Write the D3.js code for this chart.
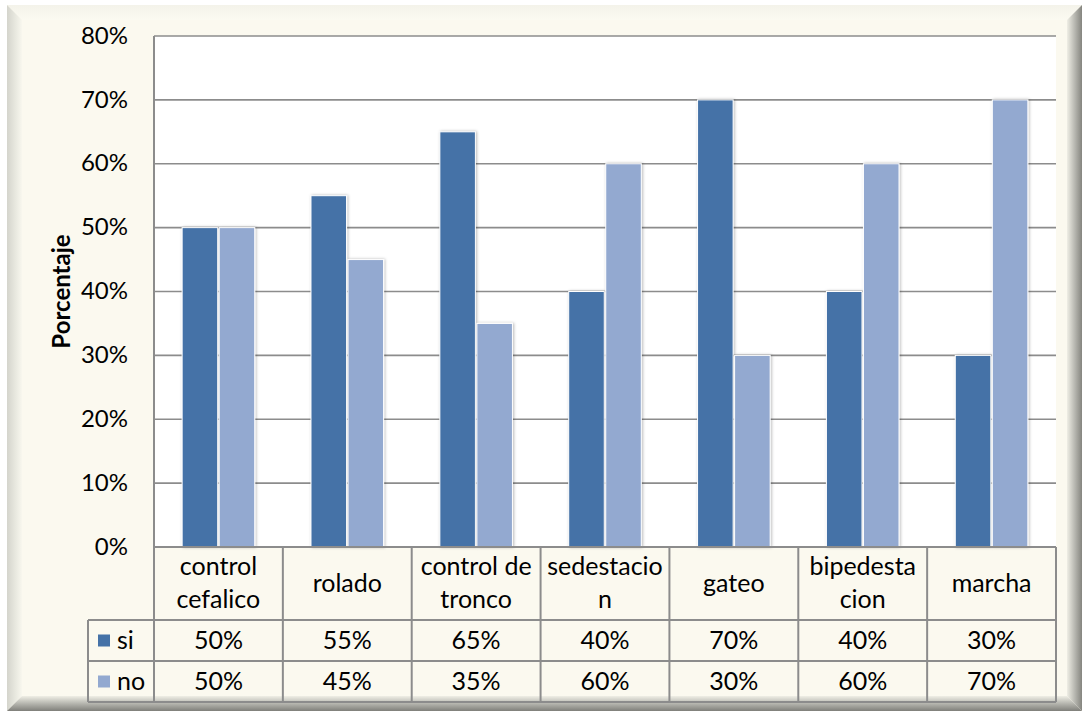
<!DOCTYPE html>
<html>
<head>
<meta charset="utf-8">
<script src="https://cdnjs.cloudflare.com/ajax/libs/d3/7.8.5/d3.min.js"></script>
<style>
  html, body { margin: 0; padding: 0; background: #ffffff; }
  svg { display: block; font-family: Lato, "Open Sans", sans-serif; }
</style>
</head>
<body>
<svg id="chart" width="1082" height="711"></svg>
<script>
// Hitos del desarrollo motor: porcentaje que lo alcanza (si) y que no (no)
const categories = ["control cefalico", "rolado", "control de tronco", "sedestacion", "gateo", "bipedestacion", "marcha"];
const categoryLines = [["control", "cefalico"], ["rolado"], ["control de", "tronco"], ["sedestacio", "n"], ["gateo"], ["bipedesta", "cion"], ["marcha"]];
const seriesNames = ["si", "no"];
const siValues = [0.50, 0.55, 0.65, 0.40, 0.70, 0.40, 0.30];
const noValues = [0.50, 0.45, 0.35, 0.60, 0.30, 0.60, 0.70];
const yTicks = [0, 0.1, 0.2, 0.3, 0.4, 0.5, 0.6, 0.7, 0.8];
const yTitle = "Porcentaje";

const seriesColors = { si: "#4572A7", no: "#93A9D0" };
const valuesBySeries = { si: siValues, no: noValues };

const W = 1082, H = 711;
const plot = { left: 154, right: 1056, top: 36, bottom: 547 };
const table = { left: 88, headerBottom: 620, row1Bottom: 661, row2Bottom: 702 };
const cream = "#FBF9EF";
const lineGray = "#8C8C8C";
const tickFont = 24;
const tableFont = 25;

const svg = d3.select("#chart");
const defs = svg.append("defs");

// Beveled frame gradients
function grad(id, x1, y1, x2, y2, stops) {
  const g = defs.append("linearGradient").attr("id", id)
    .attr("x1", x1).attr("y1", y1).attr("x2", x2).attr("y2", y2);
  stops.forEach(s => g.append("stop").attr("offset", s[0]).attr("stop-color", s[1]));
}
grad("bevL", 0, 0, 1, 0, [[0, "#d4d4cc"], [0.5, "#e6e6dd"], [1, "#f8f7ee"]]);
grad("bevT", 0, 0, 0, 1, [[0, "#f4f3ea"], [1, "#fbfaf1"]]);
grad("bevR", 0, 0, 1, 0, [[0, "#efeee5"], [0.5, "#b9b9b2"], [1, "#85857f"]]);
grad("bevB", 0, 0, 0, 1, [[0, "#efeee5"], [0.5, "#b6b6af"], [1, "#7f7f7a"]]);

const shadow = defs.append("filter").attr("id", "barShadow")
  .attr("x", "-30%").attr("y", "-10%").attr("width", "160%").attr("height", "120%");
shadow.append("feDropShadow").attr("dx", 1).attr("dy", 0).attr("stdDeviation", 1.6)
  .attr("flood-color", "#000").attr("flood-opacity", 0.28);

// Frame
const fx0 = 7, fy0 = 5, fx1 = W, fy1 = H, bw = 15;
svg.append("rect").attr("x", fx0).attr("y", fy0).attr("width", fx1 - fx0).attr("height", fy1 - fy0).attr("fill", cream);
svg.append("polygon").attr("fill", "url(#bevT)")
  .attr("points", [[fx0, fy0], [fx1, fy0], [fx1 - bw, fy0 + bw], [fx0 + bw, fy0 + bw]].join(" "));
svg.append("polygon").attr("fill", "url(#bevL)")
  .attr("points", [[fx0, fy0], [fx0 + bw, fy0 + bw], [fx0 + bw, fy1 - bw], [fx0, fy1]].join(" "));
svg.append("polygon").attr("fill", "url(#bevB)")
  .attr("points", [[fx0, fy1], [fx0 + bw, fy1 - bw], [fx1 - bw, fy1 - bw], [fx1, fy1]].join(" "));
svg.append("polygon").attr("fill", "url(#bevR)")
  .attr("points", [[fx1, fy0], [fx1, fy1], [fx1 - bw, fy1 - bw], [fx1 - bw, fy0 + bw]].join(" "));
svg.append("rect").attr("x", fx0 + bw).attr("y", fy0 + bw)
  .attr("width", fx1 - fx0 - 2 * bw).attr("height", fy1 - fy0 - 2 * bw).attr("fill", cream);

// Scales
const y = d3.scaleLinear().domain([0, 0.8]).range([plot.bottom, plot.top]);
const x0 = d3.scaleBand().domain(categories).range([plot.left, plot.right]).padding(0);
const step = x0.bandwidth();
const gapRatio = 1.55;
const barW = step / (2 + gapRatio);
const x1 = d3.scaleBand().domain(seriesNames)
  .range([(step - 2 * barW) / 2, (step + 2 * barW) / 2]).paddingInner(0.04).paddingOuter(0);

// Plot area
svg.append("rect").attr("x", plot.left).attr("y", plot.top)
  .attr("width", plot.right - plot.left).attr("height", plot.bottom - plot.top).attr("fill", "#ffffff");

// Gridlines
svg.append("g").selectAll("line").data(yTicks.filter(t => t > 0)).join("line")
  .attr("x1", plot.left).attr("x2", plot.right)
  .attr("y1", d => y(d)).attr("y2", d => y(d))
  .attr("stroke", lineGray).attr("stroke-width", 1.6);

// Y axis line
svg.append("line").attr("x1", plot.left).attr("x2", plot.left)
  .attr("y1", plot.top).attr("y2", plot.bottom).attr("stroke", lineGray).attr("stroke-width", 2);

// Y axis labels
const yAxis = d3.axisLeft(y).tickValues(yTicks).tickFormat(d3.format(".0%")).tickSize(0).tickPadding(0);
const yg = svg.append("g").attr("transform", `translate(${plot.left - 26},0)`).call(yAxis);
yg.select(".domain").remove();
yg.selectAll("text").attr("font-size", tickFont).attr("font-family", "Lato, sans-serif")
  .attr("fill", "#000").attr("dy", "0.3em");

// Y axis title
svg.append("text").attr("transform", `translate(70,${(plot.top + plot.bottom) / 2}) rotate(-90)`)
  .attr("text-anchor", "middle").attr("font-size", 24).attr("font-weight", "bold").attr("fill", "#000")
  .text(yTitle);

// Bars
const rows = categories.map((c, i) => ({ cat: c, vals: seriesNames.map(s => ({ s, v: valuesBySeries[s][i] })) }));
const groups = svg.append("g").selectAll("g").data(rows).join("g")
  .attr("transform", d => `translate(${x0(d.cat)},0)`);
groups.selectAll("rect").data(d => d.vals).join("rect")
  .attr("x", d => x1(d.s)).attr("width", x1.bandwidth())
  .attr("y", d => y(d.v)).attr("height", d => y(0) - y(d.v))
  .attr("fill", d => seriesColors[d.s])
  .attr("stroke", "#ffffff").attr("stroke-width", 1)
  .attr("filter", "url(#barShadow)");

// Data table
const tg = svg.append("g");
function hline(x1v, x2v, yv) {
  tg.append("line").attr("x1", x1v).attr("x2", x2v).attr("y1", yv).attr("y2", yv).attr("stroke", lineGray).attr("stroke-width", 2);
}
function vline(xv, y1v, y2v) {
  tg.append("line").attr("x1", xv).attr("x2", xv).attr("y1", y1v).attr("y2", y2v).attr("stroke", lineGray).attr("stroke-width", 2);
}
hline(plot.left, plot.right, plot.bottom);
hline(table.left, plot.right, table.headerBottom);
hline(table.left, plot.right, table.row1Bottom);
hline(table.left, plot.right, table.row2Bottom);
vline(table.left, table.headerBottom, table.row2Bottom);
categories.forEach(c => vline(x0(c), plot.bottom, table.row2Bottom));
vline(plot.right, plot.bottom, table.row2Bottom);

// Header labels
const lineH = 33;
const headerMid = (plot.bottom + table.headerBottom) / 2;
categories.forEach((c, i) => {
  const lines = categoryLines[i];
  const cx = x0(c) + step / 2;
  lines.forEach((ln, j) => {
    tg.append("text").attr("x", cx)
      .attr("y", headerMid + (j - (lines.length - 1) / 2) * lineH)
      .attr("dy", "0.33em").attr("text-anchor", "middle")
      .attr("font-size", tableFont).attr("fill", "#000").text(ln);
  });
});

// Value rows with legend keys
const rowMids = [(table.headerBottom + table.row1Bottom) / 2, (table.row1Bottom + table.row2Bottom) / 2];
const fmt = d3.format(".0%");
seriesNames.forEach((s, r) => {
  const ym = rowMids[r];
  tg.append("rect").attr("x", 98).attr("y", ym - 6).attr("width", 12).attr("height", 12).attr("fill", seriesColors[s]);
  tg.append("text").attr("x", 117).attr("y", ym).attr("dy", "0.33em")
    .attr("font-size", tableFont).attr("fill", "#000").text(s);
  categories.forEach((c, i) => {
    tg.append("text").attr("x", x0(c) + step / 2).attr("y", ym).attr("dy", "0.33em")
      .attr("text-anchor", "middle").attr("font-size", tableFont).attr("fill", "#000")
      .text(fmt(valuesBySeries[s][i]));
  });
});
</script>
</body>
</html>
